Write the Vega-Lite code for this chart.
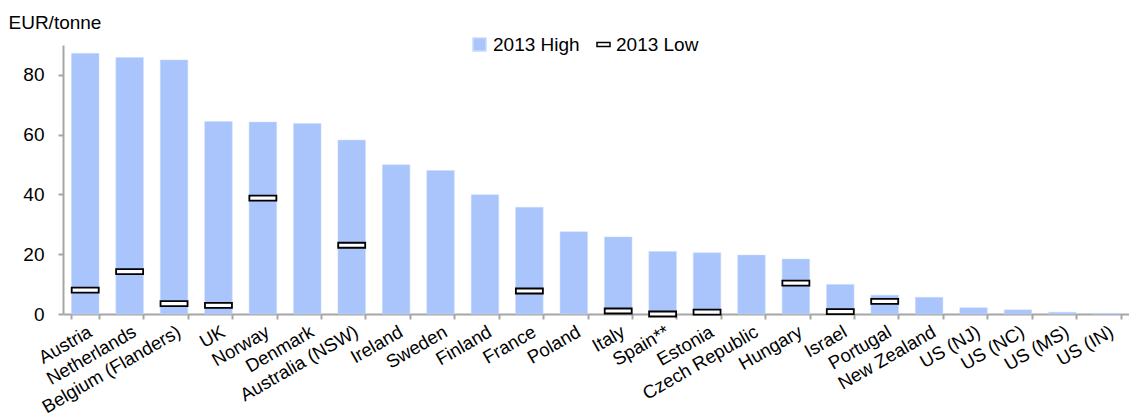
{
  "$schema": "https://vega.github.io/schema/vega-lite/v6.json",
  "autosize": {"type": "none"},
  "padding": {"left": 63, "top": 45, "right": 0, "bottom": 103},
  "width": 1066,
  "height": 269,
  "background": "white",
  "config": {
    "view": {"stroke": null},
    "font": "Liberation Sans",
    "axis": {"labelFont": "Liberation Sans", "titleFont": "Liberation Sans", "labelColor": "#000", "titleColor": "#000", "grid": false, "domainColor": "#a6a6a6", "tickColor": "#a6a6a6", "domainWidth": 2, "tickWidth": 2, "tickSize": 5},
    "legend": {"labelFont": "Liberation Sans"}
  },
  "data": {
    "values": [
      {"country": "Austria", "high": 87.2, "low": 8.0},
      {"country": "Netherlands", "high": 85.8, "low": 14.2},
      {"country": "Belgium (Flanders)", "high": 85.0, "low": 3.5},
      {"country": "UK", "high": 64.4, "low": 2.9},
      {"country": "Norway", "high": 64.2, "low": 38.8},
      {"country": "Denmark", "high": 63.7, "low": null},
      {"country": "Australia (NSW)", "high": 58.2, "low": 23.0},
      {"country": "Ireland", "high": 49.9, "low": null},
      {"country": "Sweden", "high": 48.0, "low": null},
      {"country": "Finland", "high": 39.9, "low": null},
      {"country": "France", "high": 35.7, "low": 7.7},
      {"country": "Poland", "high": 27.5, "low": null},
      {"country": "Italy", "high": 25.8, "low": 1.0},
      {"country": "Spain**", "high": 20.9, "low": 0.0},
      {"country": "Estonia", "high": 20.5, "low": 0.6},
      {"country": "Czech Republic", "high": 19.7, "low": null},
      {"country": "Hungary", "high": 18.4, "low": 10.3},
      {"country": "Israel", "high": 9.9, "low": 0.8},
      {"country": "Portugal", "high": 6.3, "low": 4.2},
      {"country": "New Zealand", "high": 5.6, "low": null},
      {"country": "US (NJ)", "high": 2.1, "low": null},
      {"country": "US (NC)", "high": 1.4, "low": null},
      {"country": "US (MS)", "high": 0.6, "low": null},
      {"country": "US (IN)", "high": 0.2, "low": null}
    ]
  },
  "encoding": {
    "x": {
      "field": "country", "type": "nominal", "sort": null,
      "scale": {"paddingInner": 0.38, "paddingOuter": 0.19},
      "axis": {"title": null, "labelAngle": -30, "labelAlign": "right", "labelBaseline": "top", "labelFontSize": 18.5, "labelPadding": 3, "tickBand": "extent", "labelOverlap": false}
    }
  },
  "layer": [
    {
      "mark": {"type": "bar", "stroke": "#c9dafc", "strokeWidth": 0.5},
      "encoding": {
        "y": {
          "field": "high", "type": "quantitative",
          "scale": {"domain": [0, 90], "nice": false},
          "axis": {"values": [0, 10, 20, 30, 40, 50, 60, 70, 80, 90], "labelExpr": "datum.value % 20 === 0 && datum.value < 90 ? datum.value : ''", "labelFontSize": 19, "labelPadding": 14, "title": "EUR/tonne", "titleAngle": 0, "titleFontSize": 19, "titleFontWeight": "normal", "titleAlign": "left", "titleBaseline": "alphabetic", "titleX": -55, "titleY": -17}
        },
        "color": {
          "datum": "2013 High",
          "scale": {"domain": ["2013 High"], "range": ["#a9c5fb"]},
          "legend": {
            "title": null, "orient": "none", "direction": "horizontal", "legendX": 407, "legendY": -10,
            "labelFontSize": 19, "labelColor": "#000", "symbolSize": 169, "symbolType": "square", "labelOffset": 4
          }
        }
      }
    },
    {
      "transform": [{"filter": "datum.low != null"}],
      "mark": {"type": "tick", "thickness": 5, "size": 27, "strokeWidth": 1.8, "filled": true, "fill": "#fff", "opacity": 1},
      "encoding": {
        "y": {"field": "low", "type": "quantitative"},
        "stroke": {
          "datum": "2013 Low",
          "scale": {"domain": ["2013 Low"], "range": ["#000000"]},
          "legend": {
            "title": null, "orient": "none", "direction": "horizontal", "legendX": 531, "legendY": -10,
            "labelFontSize": 19, "labelColor": "#000", "symbolSize": 169, "symbolType": "M-1,-0.32H1V0.32H-1Z", "symbolFillColor": "#f2f2f2", "symbolStrokeColor": "#000", "symbolStrokeWidth": 1.5, "labelOffset": 3
          }
        }
      }
    }
  ]
}
